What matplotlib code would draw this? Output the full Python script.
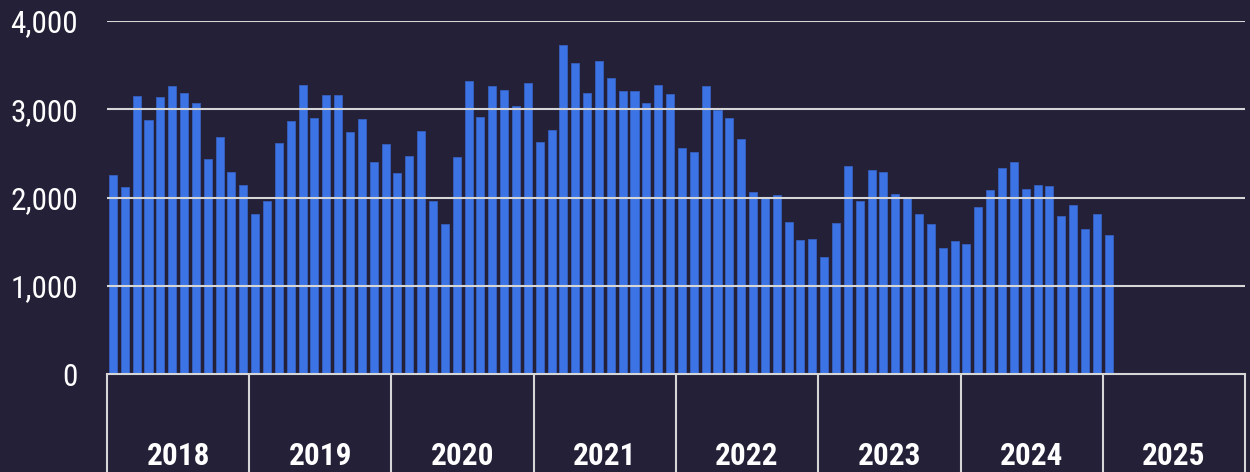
import matplotlib.pyplot as plt
from matplotlib import font_manager
import numpy as np

# Datos mensuales (ene 2018 - ene 2025)
years = ['2018', '2019', '2020', '2021', '2022', '2023', '2024', '2025']
values = [
    2255, 2122, 3150, 2875, 3139, 3263, 3181, 3071, 2433, 2682, 2289, 2138,  # 2018
    1816, 1960, 2618, 2870, 3278, 2897, 3158, 3165, 2746, 2893, 2402, 2603,  # 2019
    2278, 2467, 2754, 1964, 1700, 2459, 3320, 2909, 3263, 3218, 3033, 3301,  # 2020
    2633, 2765, 3724, 3524, 3184, 3543, 3350, 3207, 3207, 3071, 3271, 3173,  # 2021
    2557, 2512, 3267, 2995, 2901, 2659, 2059, 1998, 2025, 1719, 1515, 1526,  # 2022
    1322, 1715, 2357, 1957, 2312, 2289, 2036, 2002, 1816, 1696, 1428, 1511,  # 2023
    1473, 1889, 2080, 2334, 2399, 2093, 2138, 2130, 1787, 1911, 1643, 1810,  # 2024
    1575,                                                                    # 2025
]
yticks = [0, 1000, 2000, 3000, 4000]

bg = '#242038'
bar_color = '#3c74e6'
line_color = '#d6d6d6'

# Fuente estrecha si existe, si no Liberation Sans más pequeña
installed = {f.name for f in font_manager.fontManager.ttflist}
narrow = [f for f in ['Liberation Sans Narrow', 'Arial Narrow', 'Roboto Condensed'] if f in installed]
if narrow:
    plt.rcParams['font.family'] = [narrow[0], 'DejaVu Sans']
    fsize = 22.5
else:
    plt.rcParams['font.family'] = ['Liberation Sans', 'DejaVu Sans']
    fsize = 19.5

fig = plt.figure(figsize=(12.5, 4.72), dpi=100, facecolor=bg)
ax = fig.add_axes([107 / 1250, 98 / 472, 1138 / 1250, 353 / 472])
ax.set_facecolor(bg)

x = np.arange(len(values))
ax.bar(x, values, width=0.68, color=bar_color, edgecolor='#3560c0', linewidth=0.6, zorder=2)

# Rejilla horizontal por encima de las barras
for v in yticks[1:]:
    ax.axhline(v, color=line_color, linewidth=1.5, zorder=3)

ax.set_xlim(-0.5, 12 * len(years) - 0.5)
ax.set_ylim(0, 4000)

# Eje Y
ax.set_yticks(yticks)
ax.set_yticklabels([f'{v:,}' for v in yticks])
ax.tick_params(axis='y', length=0, pad=21, labelsize=fsize, labelcolor='white')
for t in ax.get_yticklabels():
    t.set_y(t.get_position()[1])
    t.set_verticalalignment('center_baseline')

# Eje X: años agrupados con separadores
centers = [12 * i + 5.5 for i in range(len(years))]
bounds = [12 * i - 0.5 for i in range(len(years) + 1)]
ax.set_xticks(centers)
ax.set_xticklabels(years, fontweight='bold')
ax.set_xticks(bounds, minor=True)
ax.tick_params(axis='x', which='major', length=0, pad=48, labelsize=fsize, labelcolor='white')
ax.tick_params(axis='x', which='minor', length=71, width=1.5, color=line_color, direction='out')

for s in ['left', 'right', 'top']:
    ax.spines[s].set_visible(False)
ax.spines['bottom'].set_color(line_color)
ax.spines['bottom'].set_linewidth(1.5)
ax.spines['bottom'].set_zorder(3)

fig.savefig('out.png', dpi=100, facecolor=bg)
